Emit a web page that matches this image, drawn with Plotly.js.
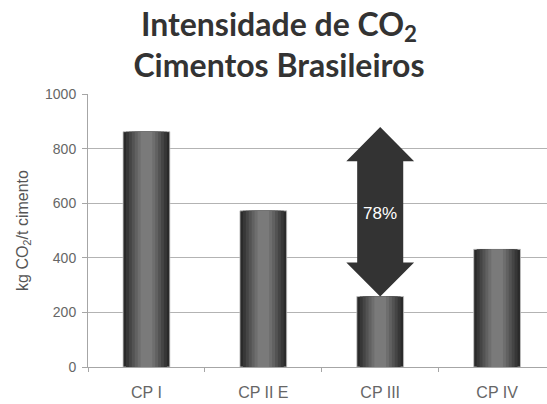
<!DOCTYPE html>
<html>
<head>
<meta charset="utf-8">
<script src="https://cdn.plot.ly/plotly-3.0.1.min.js"></script>
<style>html,body{margin:0;padding:0;background:#fff;}#chart{width:547px;height:404px;}</style>
</head>
<body>
<div id="chart"></div>
<script>
// ---- data ----
const categories = ["CP I", "CP II E", "CP III", "CP IV"];
const values = [862, 572, 258, 431];
const yTickVals = [0, 200, 400, 600, 800, 1000];
const arrowLabel = "78%";
const arrowCategoryIndex = 2;   // CP III

// ---- shading layers (simulated cylindrical gradient) ----
const shadeWidths = [0.40, 0.35, 0.30, 0.25, 0.20, 0.15, 0.10];
const shadeColors = ["#2a2a2a", "#373737", "#454545", "#535353", "#616161", "#6e6e6e", "#7a7a7a"];

const traces = shadeWidths.map((w, i) => ({
  type: "bar",
  x: categories,
  y: values,
  width: w,
  marker: {color: shadeColors[i], line: {width: i === 0 ? 0.8 : 0, color: "#c4c4c4"}},
  hoverinfo: "skip",
  showlegend: false
}));

// ---- double arrow between max value and CP III ----
const yHigh = Math.max(...values);
const yLow = values[arrowCategoryIndex];
const cx = arrowCategoryIndex;
const headH = 125, headW = 0.29, shaftW = 0.197, overshoot = 17;
const yTip = yHigh + overshoot;
const pts = [
  [cx, yTip],
  [cx + headW, yTip - headH],
  [cx + shaftW, yTip - headH],
  [cx + shaftW, yLow + headH],
  [cx + headW, yLow + headH],
  [cx, yLow],
  [cx - headW, yLow + headH],
  [cx - shaftW, yLow + headH],
  [cx - shaftW, yTip - headH],
  [cx - headW, yTip - headH]
];
const path = "M " + pts.map(p => p[0] + "," + p[1]).join(" L ") + " Z";

const layout = {
  width: 547, height: 404,
  margin: {l: 88, r: 0, t: 94, b: 37},
  paper_bgcolor: "#fff", plot_bgcolor: "#fff",
  barmode: "overlay",
  title: {
    text: "Intensidade de CO<sub>2</sub><br>Cimentos Brasileiros",
    font: {family: "Lato", size: 32, color: "#333", weight: "bold"},
    x: 0.51, xref: "container", xanchor: "center",
    y: 0.912, yref: "container", yanchor: "middle"
  },
  xaxis: {
    type: "category",
    range: [-0.5, 3.427],
    showgrid: false,
    showline: true, linecolor: "#a6a6a6", linewidth: 1,
    ticks: "outside", tickson: "boundaries", ticklen: 4, tickcolor: "#a6a6a6",
    ticklabelstandoff: 11,
    tickfont: {family: "Liberation Sans, Arial", size: 16, color: "#666"},
    zeroline: false
  },
  yaxis: {
    range: [0, 1000],
    tickvals: yTickVals,
    showgrid: true, gridcolor: "#b3b3b3", gridwidth: 1,
    showline: true, linecolor: "#a6a6a6", linewidth: 1,
    ticks: "outside", ticklen: 5, tickcolor: "#a6a6a6",
    ticklabelstandoff: 3,
    tickfont: {family: "Liberation Sans, Arial", size: 14, color: "#666"},
    zeroline: false,
    title: {text: "kg CO<sub>2</sub>/t cimento", font: {family: "Liberation Sans, Arial", size: 16, color: "#555"}, standoff: 12}
  },
  shapes: [{
    type: "path", xref: "x", yref: "y", path: path,
    fillcolor: "#333333", line: {width: 0}, layer: "above"
  }],
  annotations: [{
    x: cx, y: (yHigh + yLow) / 2 + 4, xref: "x", yref: "y",
    text: arrowLabel, showarrow: false,
    font: {family: "Liberation Sans, Arial", size: 17, color: "#fff"}
  }]
};

Plotly.newPlot("chart", traces, layout, {displayModeBar: false, staticPlot: true});
</script>
</body>
</html>
